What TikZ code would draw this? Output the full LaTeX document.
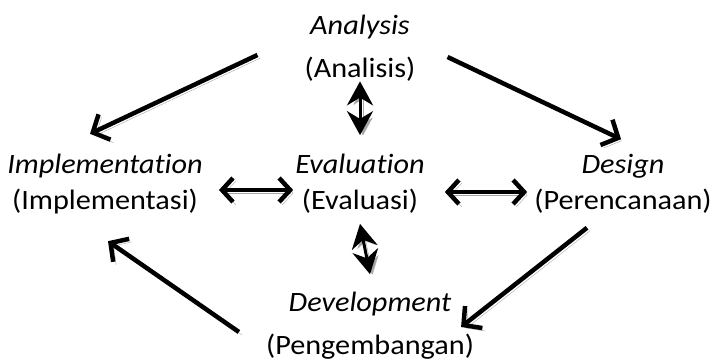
\documentclass[tikz,border=0pt]{standalone}
\usepackage{fontspec}
\setmainfont{Carlito}[FakeStretch=1.08, Ligatures=NoCommon]
\usetikzlibrary{arrows.meta}

\tikzset{
  stage/.style = {align=center, inner sep=0pt, font=\fontsize{28}{36}\selectfont},
  wide/.style = {font=\fontsize{28}{43}\selectfont},
  shade/.style = {preaction={draw=black!35, transform canvas={shift={(3pt,-3pt)}}}},
  flow/.style = {shade, line width=4.5pt, -{Straight Barb[length=13pt,width=28pt,line width=4.5pt]}},
  swap/.style = {shade, line width=4.5pt, {Straight Barb[length=11pt,width=24pt,line width=4.5pt]}-{Straight Barb[length=11pt,width=24pt,line width=4.5pt]}},
  updown/.style = {shade, line width=3pt, {Stealth[length=24pt,width=26pt]}-{Stealth[length=24pt,width=26pt]}}
}

\begin{document}
\begin{tikzpicture}[x=1pt, y=-1pt]
\useasboundingbox (0, 0) rectangle (711, 363);
% stages
\node[stage, wide] (ana) at (360, 48) {\textit{Analysis}\\(Analisis)};
\node[stage] (eva) at (360, 184) {\textit{Evaluation}\\(Evaluasi)};
\node[stage] (imp) at (105, 184) {\textit{Implementation}\\(Implementasi)};
\node[stage] (des) at (623, 184) {\textit{Design}\\(Perencanaan)};
\node[stage, wide] (dev) at (370, 326) {\textit{Development}\\(Pengembangan)};
% cycle
\draw[flow] ([xshift=-47pt, yshift=-7pt]ana.west) -- ([xshift=-15pt, yshift=20pt]imp.north);
\draw[flow] ([xshift=32pt, yshift=-9pt]ana.east) -- ([xshift=-2pt, yshift=15pt]des.north);
\draw[flow] ([xshift=-36pt, yshift=-14pt]des.south) -- ([xshift=-13pt, yshift=-1pt]dev.east);
\draw[flow] ([xshift=-27pt, yshift=-6pt]dev.west) -- ([xshift=3pt, yshift=-27pt]imp.south);
% evaluation links
\draw[swap] ([xshift=16pt, yshift=-6pt]imp.east) -- ([xshift=-2pt, yshift=-6pt]eva.west);
\draw[swap] ([xshift=20pt, yshift=-8pt]eva.east) -- ([xshift=-7pt, yshift=-8pt]des.west);
\draw[updown] (ana.south) -- ([yshift=19pt]eva.north);
\draw[updown] ([yshift=-10pt]eva.south) -- ([yshift=18pt]dev.north);
\end{tikzpicture}
\end{document}
